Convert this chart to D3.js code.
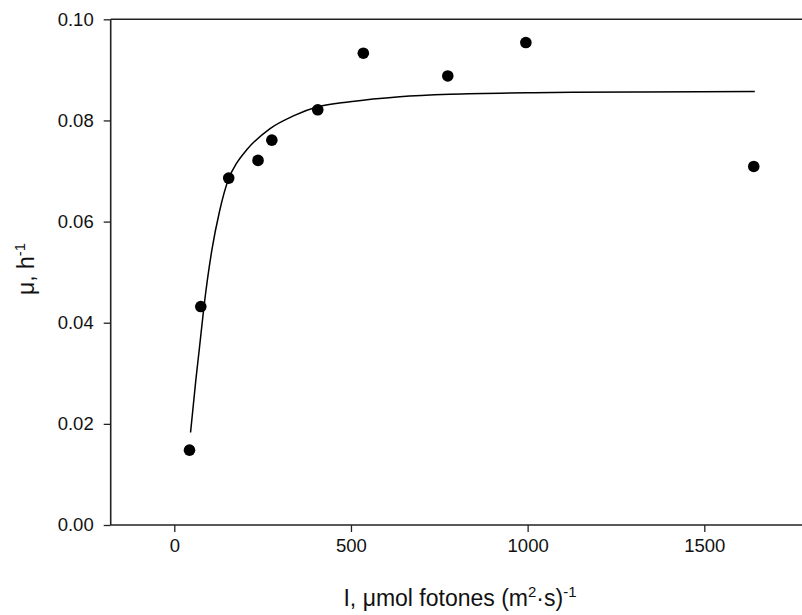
<!DOCTYPE html>
<html>
<head>
<meta charset="utf-8">
<script src="https://cdn.jsdelivr.net/npm/d3@7"></script>
<style>
  html, body { margin: 0; padding: 0; background: #fff; }
  svg { display: block; font-family: "Liberation Sans", Arial, sans-serif; }
</style>
</head>
<body>
<svg id="chart" width="802" height="615"></svg>
<script>
// Measured growth rate vs. irradiance
const irradiance = [43, 75, 154, 237, 276, 406, 535, 774, 995, 1640];
const growthRate = [0.0148, 0.0432, 0.0686, 0.0721, 0.0761, 0.0821, 0.0933, 0.0888, 0.0954, 0.0709];

// Fitted saturation curve
const fitI  = [46, 61, 70.5, 84, 106.4, 127.6, 154.5, 176, 205, 271, 337, 406, 497, 638, 780, 1016, 1299, 1643];
const fitMu = [0.0183, 0.0287, 0.0346, 0.0432, 0.0544, 0.0619, 0.0686, 0.0715, 0.0742, 0.0784, 0.0809, 0.0827, 0.0837, 0.0847, 0.0852, 0.0855, 0.0856, 0.0857];

const xTicks = [0, 500, 1000, 1500];
const yTicks = [0, 0.02, 0.04, 0.06, 0.08, 0.10];

const svg = d3.select("#chart");
const plotLeft = 110.7, plotTop = 19.3, plotBottom = 525, plotRight = 802;

const x = d3.scaleLinear().domain([-180, 1800]).range([plotLeft, plotLeft + 1980 * 0.35333]);
const y = d3.scaleLinear().domain([0, 0.10]).range([plotBottom, plotTop]);

const axisColor = "#222";
const tickFont = "18.5px";

const g = svg.append("g");

// X axis
const xAxis = g.append("g")
  .attr("transform", `translate(0,${plotBottom})`)
  .call(d3.axisBottom(x).tickValues(xTicks).tickSize(7).tickPadding(7).tickFormat(d3.format("d")));
xAxis.select(".domain").attr("d", `M${plotLeft},0H${plotRight}`);

// Y axis
const yAxis = g.append("g")
  .attr("transform", `translate(${plotLeft},0)`)
  .call(d3.axisLeft(y).tickValues(yTicks).tickSize(7).tickPadding(10).tickFormat(d3.format(".2f")));
yAxis.select(".domain").attr("d", `M0,${plotTop}V${plotBottom}`);

// Top border
g.append("line")
  .attr("x1", plotLeft).attr("x2", plotRight)
  .attr("y1", plotTop).attr("y2", plotTop)
  .attr("stroke", axisColor).attr("stroke-width", 1.6);

[xAxis, yAxis].forEach(a => {
  a.select(".domain").attr("stroke", axisColor).attr("stroke-width", 1.6).attr("fill", "none");
  a.selectAll(".tick line").attr("stroke", axisColor).attr("stroke-width", 1.3);
  a.selectAll(".tick text").attr("fill", "#111").style("font-size", tickFont)
    .style("font-family", '"Liberation Sans", Arial, sans-serif');
});

// Fitted curve
const curveData = fitI.map((v, i) => [v, fitMu[i]]);
g.append("path")
  .datum(curveData)
  .attr("fill", "none")
  .attr("stroke", "#000")
  .attr("stroke-width", 1.5)
  .attr("d", d3.line().x(d => x(d[0])).y(d => y(d[1])).curve(d3.curveMonotoneX));

// Data points
g.selectAll("circle.pt")
  .data(irradiance.map((v, i) => [v, growthRate[i]]))
  .join("circle")
  .attr("class", "pt")
  .attr("cx", d => x(d[0]))
  .attr("cy", d => y(d[1]))
  .attr("r", 5.8)
  .attr("fill", "#000");

// X axis title
const xt = svg.append("text")
  .attr("x", 460).attr("y", 606)
  .attr("text-anchor", "middle")
  .style("font-size", "23px")
  .attr("fill", "#111");
xt.append("tspan").text("I, μmol fotones (m");
xt.append("tspan").attr("dy", -9).style("font-size", "15px").text("2");
xt.append("tspan").attr("dy", 9).text("·s)");
xt.append("tspan").attr("dy", -9).style("font-size", "15px").text("-1");

// Y axis title
const yt = svg.append("text")
  .attr("transform", "translate(34,269) rotate(-90)")
  .attr("text-anchor", "middle")
  .style("font-size", "23px")
  .attr("fill", "#111");
yt.append("tspan").text("μ, h");
yt.append("tspan").attr("dy", -9).style("font-size", "15px").text("-1");
</script>
</body>
</html>
